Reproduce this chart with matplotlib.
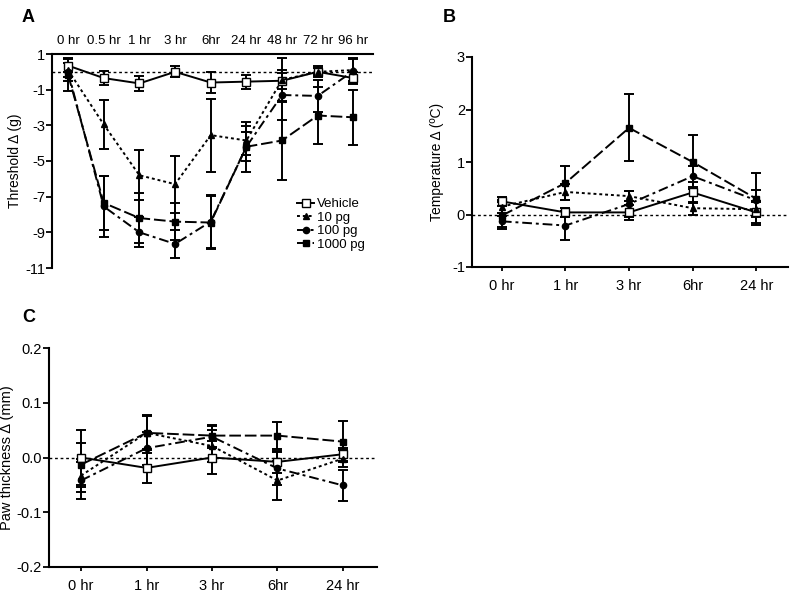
import matplotlib
matplotlib.use("Agg")
import matplotlib.pyplot as plt
import numpy as np

plt.rcParams['font.family'] = ['Liberation Sans', 'DejaVu Sans']
plt.rcParams['axes.unicode_minus'] = False

# ---------------- data ----------------
times_a = ['0 hr', '0.5 hr', '1 hr', '3 hr', '6hr', '24 hr', '48 hr', '72 hr', '96 hr']
veh_a = [0.35, -0.35, -0.65, 0.0, -0.6, -0.55, -0.5, 0.0, -0.35]
veh_a_err = [0.35, 0.4, 0.4, 0.3, 0.6, 0.4, 0.45, 0.2, 0.35]
p10_a = [0.1, -2.95, -5.8, -6.3, -3.55, -3.85, -0.45, 0.0, 0.1]
p10_a_err = [0.4, 1.35, 1.4, 1.6, 2.05, 0.8, 1.25, 0.3, 0.6]
p100_a = [0.0, -7.55, -9.0, -9.65, -8.4, -4.2, -1.3, -1.35, 0.05]
p100_a_err = [0.5, 1.7, 0.85, 0.8, 1.5, 0.8, 1.4, 0.9, 0.7]
p1000_a = [-0.15, -7.35, -8.2, -8.4, -8.45, -4.2, -3.85, -2.45, -2.55]
p1000_a_err = [0.9, 1.5, 1.4, 1.05, 1.5, 1.4, 2.2, 1.6, 1.55]

times_bc = ['0 hr', '1 hr', '3 hr', '6hr', '24 hr']
veh_b = [0.25, 0.04, 0.04, 0.42, 0.04]
veh_b_err = [0.08, 0.08, 0.15, 0.2, 0.2]
p10_b = [0.15, 0.43, 0.35, 0.12, 0.1]
p10_b_err = [0.12, 0.15, 0.1, 0.12, 0.15]
p100_b = [-0.13, -0.21, 0.2, 0.73, 0.27]
p100_b_err = [0.1, 0.27, 0.25, 0.2, 0.2]
p1000_b = [-0.02, 0.6, 1.65, 1.0, 0.3]
p1000_b_err = [0.25, 0.33, 0.64, 0.52, 0.5]

veh_c = [0.0, -0.019, 0.0, -0.008, 0.006]
veh_c_err = [0.05, 0.028, 0.03, 0.02, 0.012]
p10_c = [-0.033, 0.045, 0.021, -0.042, -0.002]
p10_c_err = [0.03, 0.03, 0.03, 0.035, 0.015]
p100_c = [-0.042, 0.017, 0.038, -0.02, -0.051]
p100_c_err = [0.033, 0.03, 0.02, 0.03, 0.028]
p1000_c = [-0.013, 0.045, 0.04, 0.04, 0.029]
p1000_c_err = [0.04, 0.032, 0.02, 0.025, 0.038]

series_names = ['Vehicle', '10 pg', '100 pg', '1000 pg']

# ---------------- styles ----------------
styles = [
    dict(marker='s', mfc='white', ms=5.5, dashes=None),
    dict(marker='^', mfc='black', ms=4, dashes=(1.5, 1.5)),
    dict(marker='o', mfc='black', ms=4.5, dashes=(5, 2, 1.5, 2)),
    dict(marker='s', mfc='black', ms=5, dashes=(6, 2)),
]


def draw(ax, labels, data, errs):
    x = np.arange(len(labels))
    handles = []
    for i, (y, e) in enumerate(zip(data, errs)):
        st = styles[i]
        ax.errorbar(x, y, yerr=e, fmt='none', ecolor='black', elinewidth=1.4,
                    capsize=3.5, capthick=1.4, zorder=2)
        kw = dict(color='black', lw=1.4, marker=st['marker'], mfc=st['mfc'],
                  mec='black', ms=st['ms'], mew=1.0, zorder=3,
                  label=series_names[i])
        if st['dashes'] is None:
            ln, = ax.plot(x, y, ls='-', **kw)
        else:
            ln, = ax.plot(x, y, ls='--', dashes=st['dashes'], **kw)
        handles.append(ln)
    ax.axhline(0, color='black', lw=1.0, ls=(0, (2, 2)), zorder=1)
    return handles


fig = plt.figure(figsize=(8, 5.96), dpi=100)

# ---- Panel A ----
axA = fig.add_axes([52/800, 1-268/596, 321/800, 214/596])
hA = draw(axA, times_a, [veh_a, p10_a, p100_a, p1000_a],
          [veh_a_err, p10_a_err, p100_a_err, p1000_a_err])
axA.set_xlim(-0.45, 8.55)
axA.set_ylim(-11, 1)
axA.set_yticks([1, -1, -3, -5, -7, -9, -11])
axA.set_xticks(np.arange(len(times_a)))
axA.set_xticklabels(times_a)
axA.xaxis.tick_top()
axA.spines['bottom'].set_visible(False)
axA.spines['right'].set_visible(False)
axA.spines['top'].set_linewidth(1.5)
axA.spines['left'].set_linewidth(1.5)
axA.tick_params(axis='x', length=0, pad=5, labelsize=9.5)
axA.tick_params(axis='y', length=4, width=1.3, labelsize=10.5, pad=1)
axA.set_ylabel('Threshold Δ (g)', fontsize=10, labelpad=2)
axA.legend(handles=hA, loc='upper left', bbox_to_anchor=(297/800, 1-198/596),
           bbox_transform=fig.transFigure, frameon=False, fontsize=9.5,
           handlelength=1.3, handletextpad=0.2, labelspacing=0.1,
           borderaxespad=0, borderpad=0)

# ---- Panel B ----
axB = fig.add_axes([472/800, 1-267/596, 316/800, 210/596])
draw(axB, times_bc, [veh_b, p10_b, p100_b, p1000_b],
     [veh_b_err, p10_b_err, p100_b_err, p1000_b_err])
axB.set_xlim(-0.47, 4.5)
axB.set_ylim(-1, 3)
axB.set_yticks([-1, 0, 1, 2, 3])
axB.set_xticks(np.arange(len(times_bc)))
axB.set_xticklabels(times_bc)
for s in ['top', 'right']:
    axB.spines[s].set_visible(False)
for s in ['bottom', 'left']:
    axB.spines[s].set_linewidth(1.5)
axB.tick_params(axis='x', length=3, width=1.3, labelsize=10.5, pad=6)
axB.tick_params(axis='y', length=4, width=1.3, labelsize=10.5, pad=1)
axB.set_ylabel('Temperature Δ (ºC)', fontsize=10, labelpad=6)

# ---- Panel C ----
axC = fig.add_axes([49/800, 1-567/596, 328/800, 219/596])
draw(axC, times_bc, [veh_c, p10_c, p100_c, p1000_c],
     [veh_c_err, p10_c_err, p100_c_err, p1000_c_err])
axC.set_xlim(-0.49, 4.52)
axC.set_ylim(-0.2, 0.2)
axC.set_yticks([-0.2, -0.1, 0.0, 0.1, 0.2])
axC.set_yticklabels(['-0.2', '-0.1', '0.0', '0.1', '0.2'])
axC.set_xticks(np.arange(len(times_bc)))
axC.set_xticklabels(times_bc)
for s in ['top', 'right']:
    axC.spines[s].set_visible(False)
for s in ['bottom', 'left']:
    axC.spines[s].set_linewidth(1.5)
axC.tick_params(axis='x', length=3, width=1.3, labelsize=10.5, pad=6)
axC.tick_params(axis='y', length=4, width=1.3, labelsize=10.5, pad=1)
axC.set_ylabel('Paw thickness Δ (mm)', fontsize=10.5, labelpad=2)

# panel letters
fig.text(22/800, 1-17/596, 'A', fontsize=13, fontweight='bold', va='center')
fig.text(443/800, 1-17/596, 'B', fontsize=13, fontweight='bold', va='center')
fig.text(22/800, 1-317/596, 'C', fontsize=13, fontweight='bold', va='center')

fig.savefig('out.png', dpi=100)
